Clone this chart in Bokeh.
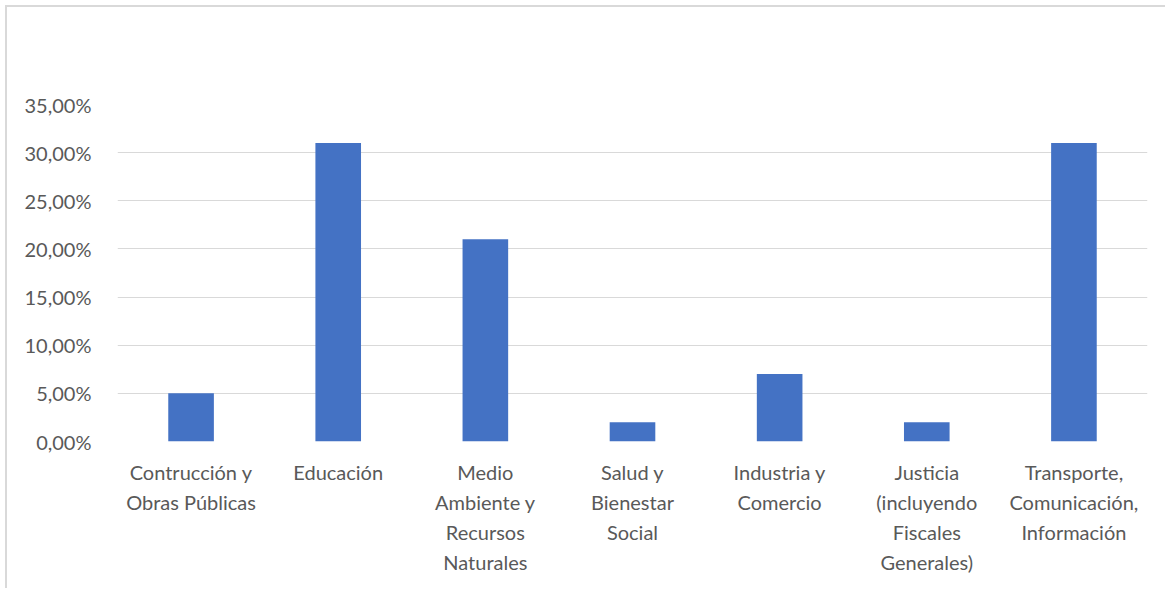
from bokeh.plotting import figure
from bokeh.models import FactorRange, Range1d, FixedTicker, ColumnDataSource
from bokeh.embed import file_html
from bokeh.resources import INLINE

categories = [
    "Contrucción y\nObras Públicas",
    "Educación",
    "Medio\nAmbiente y\nRecursos\nNaturales",
    "Salud y\nBienestar\nSocial",
    "Industria y\nComercio",
    "Justicia\n(incluyendo\nFiscales\nGenerales)",
    "Transporte,\nComunicación,\nInformación",
]
values = [5, 31, 21, 2, 7, 2, 31]
y_ticks = [0, 5, 10, 15, 20, 25, 30, 35]
y_tick_labels = ["0,00%", "5,00%", "10,00%", "15,00%", "20,00%", "25,00%", "30,00%", "35,00%"]

FONT = "Lato"
TXT = "#595959"

src = ColumnDataSource(dict(cat=categories, val=values))

p = figure(
    x_range=FactorRange(*categories, range_padding=0),
    y_range=Range1d(0, 35),
    width=1160, height=583,
    output_backend="svg", toolbar_location=None,
    min_border_left=110, min_border_right=20,
    min_border_top=97, min_border_bottom=149,
)
p.styles = {"margin-left": "5px", "margin-top": "5px",
            "border-left": "2px solid #d9d9d9", "border-top": "2px solid #d9d9d9"}

p.vbar(x="cat", top="val", width=0.31, source=src, color="#4472C4", line_color=None)

p.outline_line_color = None
p.background_fill_color = "white"
p.border_fill_color = "white"

p.xgrid.grid_line_color = None
p.ygrid.grid_line_color = "#d9d9d9"
p.ygrid.grid_line_width = 1

p.yaxis.ticker = FixedTicker(ticks=y_ticks)
p.yaxis.major_label_overrides = {t: l for t, l in zip(y_ticks, y_tick_labels)}

for ax in (p.xaxis[0], p.yaxis[0]):
    ax.axis_line_color = None
    ax.major_tick_line_color = None
    ax.minor_tick_line_color = None
    ax.major_label_text_font = FONT
    ax.major_label_text_font_size = "20px"
    ax.major_label_text_color = TXT

p.yaxis.major_label_standoff = 20
p.xaxis.major_label_standoff = 12
p.xaxis.major_label_orientation = "horizontal"
p.xaxis.major_label_text_line_height = 1.25
p.xaxis.major_label_text_align = "center"

open("out.html", "w").write(file_html(p, INLINE))
